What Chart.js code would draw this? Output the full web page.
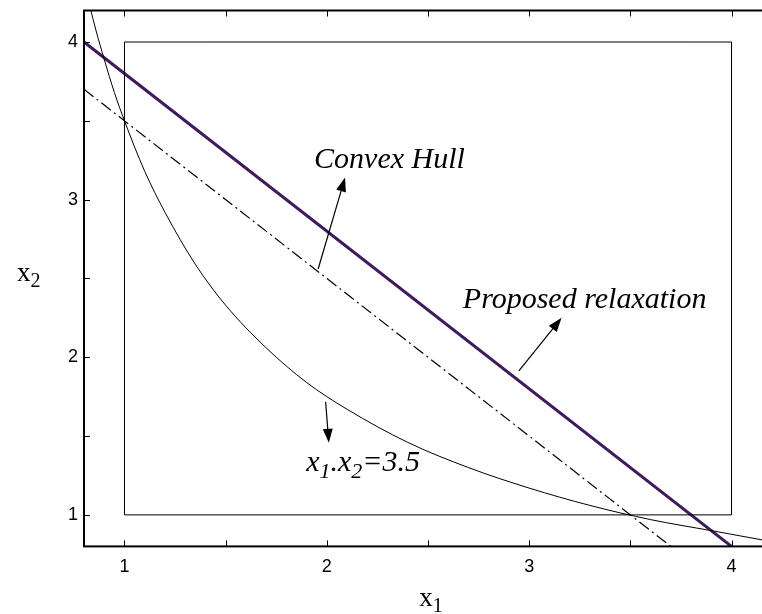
<!DOCTYPE html>
<html>
<head>
<meta charset="utf-8">
<script src="https://cdn.jsdelivr.net/npm/chart.js@4/dist/chart.umd.min.js"></script>
<style>
  html, body { margin: 0; padding: 0; background: #fff; overflow: hidden; }
  canvas { display: block; }
</style>
</head>
<body>
<canvas id="chart" width="780" height="614"></canvas>
<script>
// bounding box 1 <= x1, x2 <= 4
const boxX = [1, 1, 4, 4, 1];
const boxY = [1, 4, 4, 1, 1];

// x1.x2 = 3.5
const curveX = [0.83, 0.86, 0.9, 0.95, 1.0, 1.1, 1.2, 1.35, 1.5, 1.7, 1.9, 2.1, 2.4, 2.7, 3.0, 3.3, 3.6, 3.9, 4.2];
const curveY = [4.22, 4.07, 3.89, 3.68, 3.5, 3.18, 2.92, 2.59, 2.33, 2.06, 1.84, 1.67, 1.46, 1.30, 1.17, 1.06, 0.97, 0.90, 0.83];

// convex hull chord (dash-dot)
const hullX = [0.8, 3.7];
const hullY = [3.7, 0.8];

// proposed relaxation
const relaxX = [0.8, 4.0];
const relaxY = [4.0, 0.8];

// labels with arrows, in data units
const noteText = ['Convex Hull', 'Proposed relaxation'];
const noteX = [1.937, 2.672];
const noteY = [3.20, 2.313];
const arrowFromX = [1.957, 2.949, 1.994];
const arrowFromY = [2.56, 1.913, 1.717];
const arrowToX = [2.09, 3.16, 2.01];
const arrowToY = [3.14, 2.25, 1.457];
const curveNoteX = 1.898;
const curveNoteY = 1.279;

const xMin = 0.8, xMax = 4.2, yMin = 0.8, yMax = 4.2;

function pts(xs, ys) {
    return xs.map((x, i) => ({ x, y: ys[i] }));
}

const serif = "'Liberation Serif', 'Times New Roman', serif";
const sans = "'Liberation Sans', Arial, sans-serif";

// draw "x<sub>" pieces, returns end x
function drawSub(ctx, parts, x, y, size, italic, subScale) {
    const st = italic ? 'italic ' : '';
    for (const p of parts) {
        if (p.sub) {
            ctx.font = st + Math.round(size * subScale) + 'px ' + serif;
            ctx.fillText(p.t, x, y + size * 0.22);
        } else {
            ctx.font = st + size + 'px ' + serif;
            ctx.fillText(p.t, x, y);
        }
        x += ctx.measureText(p.t).width;
    }
    return x;
}

function arrow(ctx, x0, y0, x1, y1) {
    const a = Math.atan2(y1 - y0, x1 - x0);
    const len = 14, hw = 5;
    ctx.beginPath();
    ctx.moveTo(x0, y0);
    ctx.lineTo(x1 - Math.cos(a) * len * 0.8, y1 - Math.sin(a) * len * 0.8);
    ctx.stroke();
    ctx.beginPath();
    ctx.moveTo(x1, y1);
    ctx.lineTo(x1 - Math.cos(a) * len - Math.sin(a) * hw, y1 - Math.sin(a) * len + Math.cos(a) * hw);
    ctx.lineTo(x1 - Math.cos(a) * len + Math.sin(a) * hw, y1 - Math.sin(a) * len - Math.cos(a) * hw);
    ctx.closePath();
    ctx.fill();
}

const frame = {
    id: 'frame',
    afterDatasetsDraw(chart) {
        const { ctx, chartArea: a, scales: { x, y } } = chart;
        ctx.save();
        ctx.strokeStyle = '#000';
        ctx.fillStyle = '#000';

        // axes box
        ctx.lineWidth = 2;
        ctx.strokeRect(a.left, a.top, a.right - a.left, a.bottom - a.top);

        // inward ticks
        ctx.lineWidth = 1;
        const tl = 6;
        ctx.beginPath();
        for (const t of x.ticks) {
            const px = Math.round(x.getPixelForValue(t.value)) + 0.5;
            ctx.moveTo(px, a.bottom);
            ctx.lineTo(px, a.bottom - tl);
            ctx.moveTo(px, a.top);
            ctx.lineTo(px, a.top + tl);
        }
        for (const t of y.ticks) {
            const py = Math.round(y.getPixelForValue(t.value)) + 0.5;
            ctx.moveTo(a.left, py);
            ctx.lineTo(a.left + tl, py);
            ctx.moveTo(a.right, py);
            ctx.lineTo(a.right - tl, py);
        }
        ctx.stroke();

        // annotations
        ctx.textAlign = 'left';
        ctx.textBaseline = 'alphabetic';
        ctx.font = 'italic 30px ' + serif;
        noteText.forEach((s, i) => {
            ctx.fillText(s, x.getPixelForValue(noteX[i]), y.getPixelForValue(noteY[i]));
        });
        drawSub(ctx, [
            { t: 'x' }, { t: '1', sub: true }, { t: '.x' }, { t: '2', sub: true }, { t: '=3.5' },
        ], x.getPixelForValue(curveNoteX), y.getPixelForValue(curveNoteY), 30, true, 0.72);

        ctx.lineWidth = 1.2;
        arrowFromX.forEach((v, i) => {
            arrow(ctx,
                x.getPixelForValue(v), y.getPixelForValue(arrowFromY[i]),
                x.getPixelForValue(arrowToX[i]), y.getPixelForValue(arrowToY[i]));
        });

        // axis titles (x2 is horizontal, as in the original)
        ctx.font = '27px ' + serif;
        const cx = x.getPixelForValue((xMin + xMax) / 2);
        const w = ctx.measureText('x').width + ctx.measureText('1').width * 0.75;
        drawSub(ctx, [{ t: 'x' }, { t: '1', sub: true }], cx - w / 2 + 3, 606, 27, false, 0.75);
        drawSub(ctx, [{ t: 'x' }, { t: '2', sub: true }], 17, y.getPixelForValue((yMin + yMax) / 2) + 3, 27, false, 0.75);

        ctx.restore();
    },
};

const line = (data, extra) => Object.assign({
    data,
    showLine: true,
    pointRadius: 0,
    borderColor: '#000',
    borderWidth: 1,
    fill: false,
}, extra);

new Chart(document.getElementById('chart'), {
    type: 'scatter',
    data: {
        datasets: [
            line(pts(boxX, boxY)),
            line(pts(curveX, curveY), { tension: 0.4, cubicInterpolationMode: 'monotone' }),
            line(pts(hullX, hullY), { borderDash: [12, 4, 2, 4], borderWidth: 1.2 }),
            line(pts(relaxX, relaxY), { borderColor: '#3d1b5c', borderWidth: 3 }),
        ],
    },
    options: {
        responsive: false,
        animation: false,
        devicePixelRatio: 1,
        layout: { padding: { left: 62, right: 8, top: 9, bottom: 26 } },
        plugins: { legend: { display: false }, tooltip: { enabled: false } },
        scales: {
            x: {
                type: 'linear',
                min: xMin,
                max: xMax,
                grid: { display: false, drawTicks: false },
                border: { display: false },
                ticks: {
                    stepSize: 0.5,
                    includeBounds: false,
                    padding: 10,
                    color: '#000',
                    font: { family: sans, size: 18 },
                    callback: (v) => (Number.isInteger(v) ? String(v) : ''),
                    maxRotation: 0,
                    autoSkip: false,
                },
            },
            y: {
                type: 'linear',
                min: yMin,
                max: yMax,
                grid: { display: false, drawTicks: false },
                border: { display: false },
                ticks: {
                    stepSize: 0.5,
                    includeBounds: false,
                    padding: 6,
                    color: '#000',
                    font: { family: sans, size: 18, lineHeight: 0.5 },
                    callback: (v) => (Number.isInteger(v) ? String(v) : ''),
                    autoSkip: false,
                },
            },
        },
    },
    plugins: [frame],
});
</script>
</body>
</html>
